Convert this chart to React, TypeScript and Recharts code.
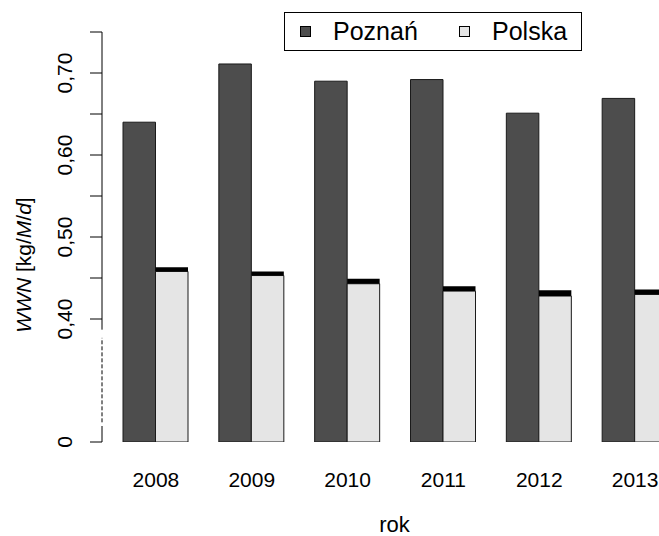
import { Bar, BarChart, Label, Legend, ReferenceLine, XAxis, YAxis } from 'recharts'

const years = ['2008', '2009', '2010', '2011', '2012', '2013']
const poznan = [0.64, 0.711, 0.69, 0.692, 0.651, 0.669]
// Polska: value (grey) and upper bound (black cap on top)
const polska = [0.458, 0.453, 0.443, 0.434, 0.428, 0.43]
const polskaTop = [0.463, 0.458, 0.449, 0.44, 0.435, 0.436]
const legendNames = ['Poznań', 'Polska']

// broken axis: the "0" tick sits where 0.25 would be
const AXIS_BREAK = 0.25
const yTickValues = [0.25, 0.4, 0.45, 0.5, 0.55, 0.6, 0.65, 0.7, 0.75]
const yTickLabels = ['0', '0,40', '', '0,50', '', '0,60', '', '0,70', '']

const FONT = '"Liberation Sans", Arial, Helvetica, sans-serif'
const W = 683
const H = 536
const X_AXIS_H = 94
const Y_AXIS_W = 102

const data = years.map((year, i) => ({
  year,
  poznan: poznan[i] - AXIS_BREAK,
  polska: polska[i] - AXIS_BREAK,
  polskaCap: polskaTop[i] - polska[i],
}))

const off = (v: number) => v - AXIS_BREAK

function YTick(props: any) {
  const { x, y, payload } = props
  const idx = yTickValues.findIndex((v) => Math.abs(off(v) - payload.value) < 1e-6)
  const label = idx >= 0 ? yTickLabels[idx] : ''
  if (!label) return null
  return (
    <text
      transform={`translate(${x - 16}, ${y}) rotate(-90)`}
      textAnchor="middle"
      fontSize={21}
      fontFamily={FONT}
      fill="#000"
    >
      {label}
    </text>
  )
}

function XTick(props: any) {
  const { x, payload } = props
  return (
    <text x={x} y={H - X_AXIS_H + 45} textAnchor="middle" fontSize={21} fontFamily={FONT} fill="#000">
      {payload.value}
    </text>
  )
}

function YTitle(props: any) {
  const { viewBox } = props
  const cy = viewBox.y + viewBox.height / 2 + 28
  return (
    <text transform={`translate(31, ${cy}) rotate(-90)`} textAnchor="middle" fontSize={21} fontFamily={FONT} fill="#000">
      <tspan fontStyle="italic">WWN</tspan> [kg/<tspan fontStyle="italic">M</tspan>/<tspan fontStyle="italic">d</tspan>]
    </text>
  )
}

function XTitle(props: any) {
  const { viewBox } = props
  return (
    <text x={viewBox.x + viewBox.width / 2 + 2} y={H - 4} textAnchor="middle" fontSize={22} fontFamily={FONT} fill="#000">
      rok
    </text>
  )
}

function LegendBox({ payload }: any) {
  const items = (payload ?? [])
    .filter((item: any) => legendNames.includes(item.value))
    .sort((a: any, b: any) => legendNames.indexOf(a.value) - legendNames.indexOf(b.value))
  return (
    <div
      style={{
        boxSizing: 'border-box',
        width: 298,
        height: 39,
        border: '1px solid #000',
        background: '#fff',
        display: 'flex',
        alignItems: 'center',
        paddingLeft: 15,
        fontFamily: FONT,
        fontSize: 25,
        color: '#000',
        overflow: 'hidden',
      }}
    >
      {items.map((item: any, i: number) => (
        <div key={item.value} style={{ display: 'flex', alignItems: 'center', flex: '0 0 auto', width: i === 0 ? 159 : 'auto' }}>
          <span
            style={{
              boxSizing: 'border-box',
              display: 'inline-block',
              flex: '0 0 auto',
              width: 11,
              height: 11,
              background: item.color,
              border: '1px solid #000',
              marginRight: 22,
            }}
          />
          <span style={{ lineHeight: '25px', whiteSpace: 'nowrap' }}>{item.value}</span>
        </div>
      ))}
    </div>
  )
}

export default function App() {
  return (
    <div style={{ position: 'absolute', left: 0, top: 0, width: 659, height: 536, overflow: 'hidden', background: '#fff' }}>
      <BarChart width={W} height={H} data={data} margin={{ top: 32, right: 0, bottom: 0, left: 0 }} barGap={0} barSize={32.5}>
        <XAxis
          dataKey="year"
          padding={{ left: 6, right: 0 }}
          axisLine={false}
          tickLine={false}
          height={X_AXIS_H}
          interval={0}
          tick={<XTick />}
        >
          <Label content={<XTitle />} />
        </XAxis>
        <XAxis xAxisId="frame" type="number" domain={[0, 1]} hide />
        <YAxis
          type="number"
          domain={[0, off(0.75)]}
          ticks={yTickValues.map(off)}
          allowDataOverflow
          width={Y_AXIS_W}
          axisLine={false}
          tickLine={{ stroke: '#000', strokeWidth: 1 }}
          tickSize={12}
          interval={0}
          tick={<YTick />}
        >
          <Label content={<YTitle />} />
        </YAxis>
        <ReferenceLine
          xAxisId="frame"
          segment={[{ x: 0, y: off(0.387) }, { x: 0, y: off(0.75) }]}
          stroke="#000"
          strokeWidth={1}
        />
        <ReferenceLine
          xAxisId="frame"
          segment={[{ x: 0, y: off(0.274) }, { x: 0, y: off(0.377) }]}
          stroke="#000"
          strokeWidth={1}
          strokeDasharray="4 2"
        />
        <ReferenceLine
          xAxisId="frame"
          segment={[{ x: 0, y: off(0.25) }, { x: 0, y: off(0.2695) }]}
          stroke="#000"
          strokeWidth={1}
        />
        <Legend
          verticalAlign="middle"
          align="center"
          layout="horizontal"
          wrapperStyle={{ top: 12, left: 284, width: 298, height: 39 }}
          content={<LegendBox />}
        />
        <Bar dataKey="poznan" stackId="a" name="Poznań" fill="#4d4d4d" stroke="#1a1a1a" strokeWidth={1} isAnimationActive={false} />
        <Bar dataKey="polska" stackId="b" name="Polska" fill="#e5e5e5" stroke="#1a1a1a" strokeWidth={1} isAnimationActive={false} />
        <Bar dataKey="polskaCap" stackId="b" name="Polska max" fill="#000" legendType="none" isAnimationActive={false} />
      </BarChart>
    </div>
  )
}
